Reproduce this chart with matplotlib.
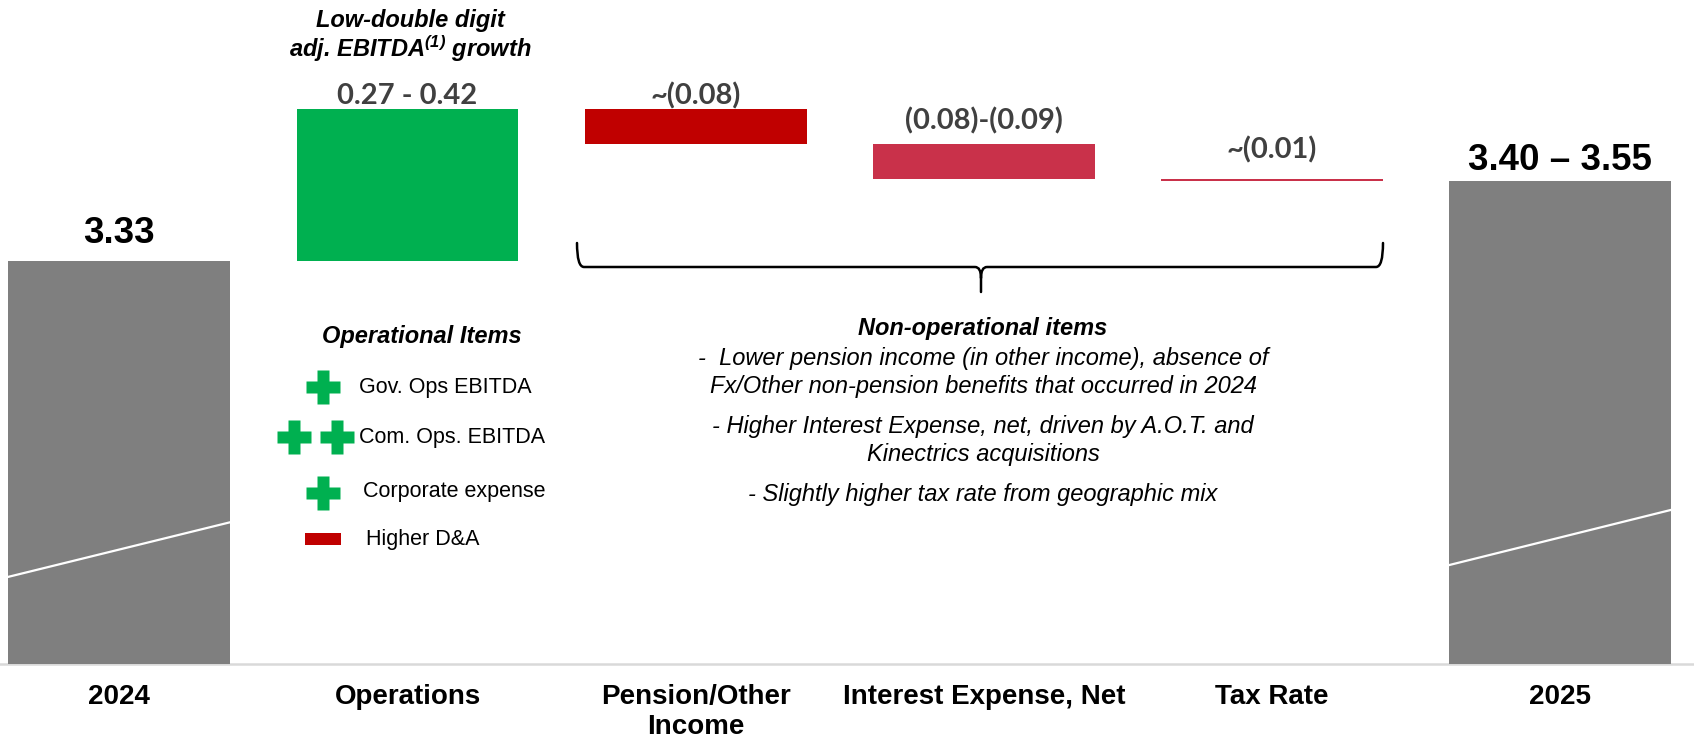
import matplotlib
matplotlib.use("Agg")
import matplotlib.pyplot as plt
from matplotlib.path import Path
from matplotlib.patches import PathPatch, Rectangle

# data
categories = ["2024", "Operations", "Pension/Other\nIncome", "Interest Expense, Net", "Tax Rate", "2025"]
start_value = 3.33
step_values = [0.27, -0.062, -0.062, -0.004]
end_value = start_value + sum(step_values)
value_labels = ["3.33", "0.27 - 0.42", "~(0.08)", "(0.08)-(0.09)", "~(0.01)", "3.40 \u2013 3.55"]
break_2024 = [2.769, 2.866]
break_2025 = [2.790, 2.888]

legend_items = ["Gov. Ops EBITDA", "Com. Ops. EBITDA", "Corporate expense", "Higher D&A"]
non_op_title = "Non-operational items"
non_op_lines = [
    "-  Lower pension income (in other income), absence of",
    "Fx/Other non-pension benefits that occurred in 2024",
    "- Higher Interest Expense, net, driven by A.O.T. and",
    "Kinectrics acquisitions",
    "- Slightly higher tax rate from geographic mix",
]

GRAY = "#7F7F7F"
GREEN = "#00B050"
DARK_RED = "#C00000"
ROSE = "#C9314A"
LABEL_GRAY = "#404040"

plt.rcParams["font.family"] = ["Liberation Sans", "DejaVu Sans"]
plt.rcParams["mathtext.fontset"] = "custom"
plt.rcParams["mathtext.rm"] = "Liberation Sans:bold:italic"
plt.rcParams["mathtext.it"] = "Liberation Sans:bold:italic"

fig = plt.figure(figsize=(16.94, 7.42), dpi=100)
ax = fig.add_axes([0, 0.1046, 1, 0.8954])

# waterfall geometry
bottoms, heights, tops = [0], [start_value], [start_value]
running = start_value
for s in step_values:
    b = running if s > 0 else running + s
    bottoms.append(b)
    heights.append(abs(s))
    running += s
    tops.append(b + abs(s))
bottoms.append(0)
heights.append(end_value)
tops.append(end_value)

colors = [GRAY, GREEN, DARK_RED, ROSE, ROSE, GRAY]
x = list(range(len(categories)))
ax.bar(x, heights, bottom=bottoms, width=0.77, color=colors, linewidth=0, zorder=2)

# axis break marks on the total bars
w = 0.77 / 2
ax.plot([0 - w, 0 + w], break_2024, color="white", lw=1.6, zorder=3)
ax.plot([5 - w, 5 + w], break_2025, color="white", lw=1.6, zorder=3)

ax.set_xlim(-0.414, 5.464)
ax.set_ylim(2.6135, 3.7936)
ax.set_yticks([])
ax.set_xticks(x)
ax.set_xticklabels(categories, fontsize=20, fontweight="bold")
ax.tick_params(axis="x", length=0, pad=14)
for sp in ["top", "left", "right"]:
    ax.spines[sp].set_visible(False)
ax.spines["bottom"].set_color("#D9D9D9")
ax.spines["bottom"].set_linewidth(1.8)
ax.spines["bottom"].set_zorder(1)

# value labels
offsets_px = [18, 5, 5, 14, 20, 11]
for i, lab in enumerate(value_labels):
    if i in (0, 5):
        kw = dict(fontsize=26.5, fontweight="bold", color="black")
    else:
        kw = dict(fontsize=21, fontweight="bold", color=LABEL_GRAY, family=["Lato", "DejaVu Sans"])
    ax.annotate(lab, xy=(i, tops[i]), xytext=(0, offsets_px[i] * 0.72), textcoords="offset points",
                ha="center", va="baseline", zorder=4, **kw)

# overlay in pixel coordinates for annotations
ov = fig.add_axes([0, 0, 1, 1], zorder=5)
ov.set_xlim(0, 1694)
ov.set_ylim(742, 0)
ov.axis("off")
ov.patch.set_alpha(0)

ov.text(410, 20, "Low-double digit", fontsize=17, fontweight="bold", style="italic", ha="center", va="center")
ov.text(410, 49, r"adj. EBITDA$^{(1)}$ growth", fontsize=17, fontweight="bold", style="italic",
        ha="center", va="center")

# brace
verts = [(577, 243), (577, 267), (584, 267), (975, 267), (981, 267), (981, 278), (981, 292),
         (981, 278), (981, 267), (987, 267), (1376, 267), (1383, 267), (1383, 243)]
codes = [Path.MOVETO, Path.CURVE3, Path.CURVE3, Path.LINETO, Path.CURVE3, Path.CURVE3, Path.LINETO,
         Path.MOVETO, Path.CURVE3, Path.CURVE3, Path.LINETO, Path.CURVE3, Path.CURVE3]
ov.add_patch(PathPatch(Path(verts, codes), fill=False, lw=1.8, color="black", capstyle="round"))

# operational items legend
ov.text(422, 337, "Operational Items", fontsize=17, fontweight="bold", style="italic", ha="center", va="center")
ov.plot([323], [387], marker="P", ms=25, color=GREEN, mec="none", ls="none")
ov.plot([294, 337], [437, 437], marker="P", ms=25, color=GREEN, mec="none", ls="none")
ov.plot([323], [493], marker="P", ms=25, color=GREEN, mec="none", ls="none")
ov.add_patch(Rectangle((305, 533), 36, 12, color=DARK_RED, lw=0))
for (tx, ty), item in zip([(359, 387), (359, 438), (363, 492), (366, 540)], legend_items):
    ov.text(tx, ty, item, fontsize=15.5, ha="left", va="center")

# non-operational items
ov.text(983, 328, non_op_title, fontsize=17, fontweight="bold", style="italic", ha="center", va="center")
for ly, line in zip([358, 386, 426, 455, 494], non_op_lines):
    ov.text(983, ly, line, fontsize=17, style="italic", ha="center", va="center")

fig.savefig("out.png", dpi=100)
